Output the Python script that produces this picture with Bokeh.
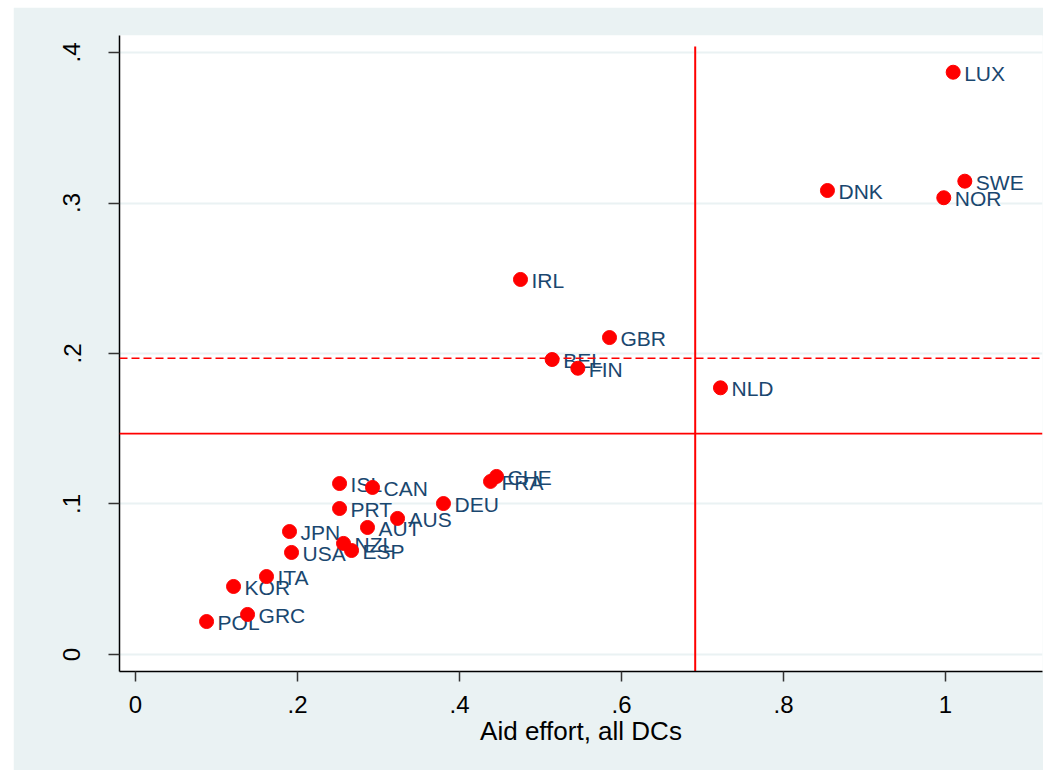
from bokeh.plotting import figure
from bokeh.models import Range1d, FixedTicker, Span, ColumnDataSource, Spacer
from bokeh.layouts import row, column
from bokeh.core.properties import value
from bokeh.embed import file_html
from bokeh.resources import INLINE

countries = ["LUX", "SWE", "NOR", "DNK", "IRL", "GBR", "BEL", "FIN", "NLD", "CHE",
             "FRA", "DEU", "ISL", "CAN", "PRT", "AUS", "AUT", "JPN", "USA", "NZL",
             "ESP", "ITA", "KOR", "GRC", "POL"]
aid_effort_all = [1.0095, 1.0239, 0.9979, 0.8543, 0.4753, 0.5852, 0.5144, 0.5461, 0.7222, 0.4457,
                  0.4383, 0.3802, 0.2519, 0.2926, 0.2519, 0.3235, 0.2864, 0.1901, 0.1926, 0.2568,
                  0.2667, 0.1617, 0.1210, 0.1383, 0.0877]
aid_effort_y = [0.3869, 0.3145, 0.3035, 0.3083, 0.2492, 0.2106, 0.1960, 0.1902, 0.1772, 0.1183,
                0.1150, 0.1003, 0.1136, 0.1110, 0.0970, 0.0904, 0.0844, 0.0817, 0.0678, 0.0738,
                0.0691, 0.0518, 0.0452, 0.0266, 0.0219]

x_ticks = [0, 0.2, 0.4, 0.6, 0.8, 1.0]
x_tick_labels = ["0", ".2", ".4", ".6", ".8", "1"]
y_ticks = [0, 0.1, 0.2, 0.3, 0.4]
y_tick_labels = ["0", ".1", ".2", ".3", ".4"]

vline_x = 0.691
vline_y = [-0.0126, 0.404]
hline_solid_y = 0.1467
hline_dashed_y = 0.1968

BG = "#EAF2F3"
FONT = "Liberation Sans"

p = figure(frame_width=923, frame_height=636,
           min_border_left=106, min_border_right=1, min_border_top=28, min_border_bottom=99,
           x_range=Range1d(-0.0198, 1.1198), y_range=Range1d(-0.0113, 0.4113),
           output_backend="svg", toolbar_location=None)
p.background_fill_color = "white"
p.border_fill_color = BG
p.outline_line_color = None

p.xgrid.visible = False
p.ygrid.ticker = FixedTicker(ticks=y_ticks)
p.ygrid.grid_line_color = BG
p.ygrid.grid_line_width = 2

for ax in (p.xaxis[0], p.yaxis[0]):
    ax.axis_line_color = "black"
    ax.axis_line_width = 1.5
    ax.major_tick_line_color = "#333333"
    ax.major_tick_line_width = 1.5
    ax.major_tick_in = 0
    ax.minor_tick_line_color = None
    ax.major_label_text_font = FONT
    ax.major_label_text_font_size = "24px"
    ax.major_label_text_color = "black"

p.xaxis.ticker = FixedTicker(ticks=x_ticks)
p.xaxis.major_label_overrides = {t: l for t, l in zip(x_ticks, x_tick_labels)}
p.xaxis.major_tick_out = 10
p.xaxis.major_label_standoff = 14
p.xaxis.axis_label = "Aid effort, all DCs"
p.xaxis.axis_label_text_font = FONT
p.xaxis.axis_label_text_font_size = "26px"
p.xaxis.axis_label_text_font_style = "normal"
p.xaxis.axis_label_text_color = "black"
p.xaxis.axis_label_standoff = 0

p.yaxis.ticker = FixedTicker(ticks=y_ticks)
p.yaxis.major_label_overrides = {t: l for t, l in zip(y_ticks, y_tick_labels)}
p.yaxis.major_tick_out = 11
p.yaxis.major_label_standoff = 28
p.yaxis.major_label_orientation = "vertical"

p.add_layout(Span(location=hline_solid_y, dimension="width", line_color="#FF0000", line_width=1.8))
p.add_layout(Span(location=hline_dashed_y, dimension="width", line_color="#FF0000", line_width=1.5,
                  line_dash="8 4"))
p.line(x=[vline_x, vline_x], y=vline_y, line_color="#FF0000", line_width=2)

src = ColumnDataSource(dict(x=aid_effort_all, y=aid_effort_y, name=countries))
p.text(x="x", y="y", text="name", source=src, x_offset=11, y_offset=1,
       text_align="left", text_baseline="middle", text_font=value(FONT),
       text_font_size="21px", text_color="#1A476F")
p.scatter(x="x", y="y", source=src, marker="circle", size=14,
          fill_color="#FF0000", line_color="#FF0000")

layout = column(Spacer(width=10, height=7), row(Spacer(width=13, height=10), p))
open("out.html", "w").write(file_html(layout, INLINE))
